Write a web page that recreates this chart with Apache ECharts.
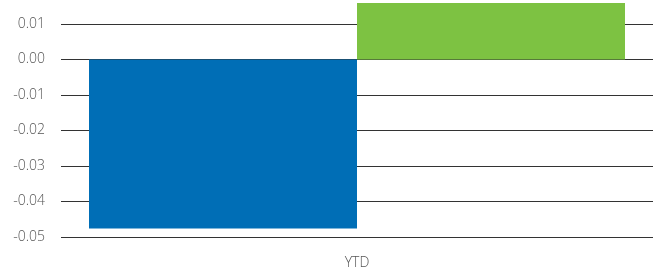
<!DOCTYPE html>
<html>
<head>
<meta charset="utf-8">
<script src="https://cdn.jsdelivr.net/npm/echarts@6/dist/echarts.min.js"></script>
<style>
  html, body { margin: 0; padding: 0; background: #fff; }
  #chart { width: 653px; height: 272px; }
</style>
</head>
<body>
<div id="chart"></div>
<script>
// data
var categories = ['YTD'];
var seriesA = [-0.0476]; // blue
var seriesB = [0.0159];  // green

var chart = echarts.init(document.getElementById('chart'), null, { renderer: 'canvas' });

chart.setOption({
  animation: false,
  grid: { left: 61, width: 596, top: 24, bottom: 35 },
  xAxis: {
    type: 'category',
    data: categories,
    axisLine: { show: false },
    axisTick: { show: false },
    axisLabel: { color: '#555', fontFamily: 'Open Sans', fontWeight: 300, fontSize: 14, margin: 19 }
  },
  yAxis: {
    type: 'value',
    min: -0.05,
    max: 0.01,
    interval: 0.01,
    axisLine: { show: false },
    axisTick: { show: false },
    axisLabel: {
      color: '#555',
      fontFamily: 'Open Sans',
      fontWeight: 300,
      fontSize: 14,
      margin: 16,
      formatter: function (v) { return v.toFixed(2); }
    },
    splitLine: { show: true, lineStyle: { color: '#333', width: 1 } }
  },
  series: [{
    type: 'bar',
    data: seriesA,
    barWidth: 268,
    barGap: '0%',
    clip: false,
    itemStyle: { color: '#006EB6' }
  }, {
    type: 'bar',
    data: seriesB,
    barWidth: 268,
    barGap: '0%',
    clip: false,
    itemStyle: { color: '#7DC242' }
  }]
});
</script>
</body>
</html>
